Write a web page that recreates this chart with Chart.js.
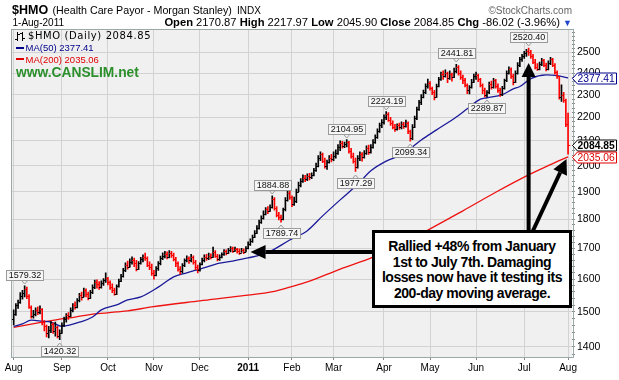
<!DOCTYPE html>
<html><head><meta charset="utf-8">
<script src="https://cdn.jsdelivr.net/npm/chart.js@4.4.0/dist/chart.umd.min.js"></script>
<style>
html,body{margin:0;padding:0;background:#fff;}
#wrap{position:relative;width:619px;height:380px;overflow:hidden;font-family:"Liberation Sans",Arial,sans-serif;color:#000;}
canvas{position:absolute;left:0;top:0;}
.t{position:absolute;white-space:nowrap;}
.dash{display:inline-block;width:8px;height:2px;vertical-align:middle;margin-right:2px;position:relative;top:-1px;}
#note{position:absolute;left:372px;top:230px;width:200px;height:78px;box-sizing:border-box;border:3px solid #000;background:#fff;
 text-align:center;font-weight:bold;font-size:14px;line-height:15.7px;letter-spacing:-0.45px;padding-top:6px;}
</style></head><body>
<div id="wrap">
<canvas id="c" width="619" height="380" style="width:619px;height:380px"></canvas>
<div class="t" style="left:12px;top:3.7px;font-size:12.5px;line-height:13px;font-weight:bold;">$HMO</div>
<div class="t" style="left:52.5px;top:4.5px;font-size:10.7px;line-height:11px;">(Health Care Payor - Morgan Stanley)</div>
<div class="t" style="left:237px;top:5px;font-size:10px;line-height:11px;">INDX</div>
<div class="t" style="right:47px;top:5.5px;font-size:10px;line-height:10px;color:#666;">©StockCharts.com</div>
<div class="t" style="left:12.5px;top:18.2px;font-size:10px;line-height:10px;">1-Aug-2011</div>
<div class="t" style="right:47px;top:17.3px;font-size:11.2px;line-height:11px;"><b>Open</b> 2170.87 <b>High</b> 2217.97 <b>Low</b> 2045.90 <b>Close</b> 2084.85 <b>Chg</b> -86.02 (-3.96%) <span style="color:#2244cc;font-size:9px">▼</span></div>
<div class="t" style="left:28px;top:30.2px;font-family:'DejaVu Sans',sans-serif;font-size:10px;line-height:12px;letter-spacing:0.6px;">$HMO (Daily) 2084.85</div>
<div class="t" style="left:15.5px;top:42.1px;font-size:9.5px;line-height:11px;color:#00008b;"><span class="dash" style="background:#00008b"></span>MA(50) 2377.41</div>
<div class="t" style="left:15.5px;top:53.6px;font-size:9.5px;line-height:11px;color:#e00000;"><span class="dash" style="background:#e00000"></span>MA(200) 2035.06</div>
<div class="t" style="left:16px;top:65.6px;font-size:13.8px;line-height:14px;font-weight:bold;color:#2b8f2b;">www.CANSLIM.net</div>
<div id="note">Rallied +48% from January<br>1st to July 7th. Damaging<br>losses now have it testing its<br>200-day moving average.</div>
</div>
<script>
// ---- data ----
const monthIdx = [0,22,43,64,85,107,127,146,169,190,211,233,253];
const monthLabels = ['Aug','Sep','Oct','Nov','Dec','2011','Feb','Mar','Apr','May','Jun','Jul','Aug'];
const yTicks = [1400,1500,1600,1700,1800,1900,2000,2100,2200,2300,2400,2500];
const yMinorTicks = [1380,1420,1440,1460,1480,1520,1540,1560,1580,1620,1640,1660,1680,1720,1740,1760,1780,1820,1840,1860,1880,1920,1940,1960,1980,2020,2040,2060,2080,2120,2140,2160,2180,2220,2240,2260,2280,2320,2340,2360,2380,2420,2440,2460,2480,2520,2540,2560,2580,2600];

const opens = [
1480,1495,1520,1530,1548,1556,1570,1548,1515,1488,
1495,1505,1500,1508,1470,1458,1440,1448,1465,1445,
1455,1432,1440,1462,1478,1490,1488,1505,1520,1515,
1535,1550,1545,1565,1555,1542,1560,1575,1590,1585,
1575,1588,1596,1605,1590,1575,1565,1555,1578,1595,
1610,1628,1645,1640,1655,1662,1650,1632,1650,1665,
1672,1668,1645,1640,1620,1612,1635,1650,1668,1675,
1680,1672,1685,1678,1665,1650,1632,1625,1645,1660,
1668,1660,1672,1655,1640,1628,1648,1660,1672,1668,
1676,1672,1688,1676,1665,1672,1680,1690,1685,1694,
1700,1692,1698,1690,1686,1695,1688,1700,1715,1725,
1738,1752,1770,1790,1805,1820,1835,1830,1845,1875,
1840,1815,1808,1800,1835,1870,1895,1880,1855,1865,
1900,1925,1940,1952,1948,1960,1955,1965,1982,2000,
2030,2045,2020,2000,2015,2030,2025,2040,2050,2075,
2090,2080,2088,2095,2060,2040,2020,1995,2030,2045,
2035,2050,2070,2055,2075,2095,2115,2140,2165,2180,
2200,2215,2190,2175,2160,2150,2165,2158,2170,2162,
2175,2140,2110,2160,2195,2235,2265,2290,2310,2340,
2355,2330,2310,2290,2340,2370,2395,2385,2400,2375,
2395,2380,2410,2430,2400,2380,2365,2345,2320,2335,
2360,2385,2390,2370,2345,2320,2300,2310,2350,2335,
2365,2340,2320,2305,2330,2365,2400,2420,2385,2360,
2400,2440,2465,2480,2495,2505,2500,2480,2455,2430,
2420,2445,2460,2440,2420,2450,2465,2440,2405,2385,
2290,2300,2275,2170.87];
const highs = [
1506,1525,1535,1558,1565,1579.32,1575,1552,1518,1505,
1512,1515,1518,1510,1475,1462,1458,1472,1468,1470,
1458,1448,1468,1485,1495,1498,1512,1525,1530,1540,
1556,1560,1572,1570,1560,1565,1582,1597,1598,1592,
1595,1602,1620,1606,1595,1585,1572,1582,1600,1615,
1634,1652,1658,1665,1672,1668,1660,1656,1670,1678,
1684,1672,1655,1648,1628,1640,1656,1674,1685,1690,
1688,1692,1690,1684,1670,1655,1640,1650,1665,1675,
1672,1680,1675,1660,1645,1652,1668,1678,1680,1684,
1682,1704,1692,1680,1678,1685,1696,1695,1700,1706,
1704,1704,1700,1698,1700,1698,1706,1722,1732,1745,
1760,1778,1797,1812,1830,1842,1845,1852,1884.88,1878,
1845,1825,1815,1840,1878,1907,1915,1885,1880,1910,
1937,1950,1964,1962,1968,1970,1972,1990,2010,2040,
2055,2050,2030,2022,2040,2045,2055,2063,2085,2100,
2098,2095,2104.95,2098,2070,2050,2030,2040,2055,2052,
2060,2080,2083,2085,2105,2125,2150,2175,2190,2210,
2224.19,2220,2200,2185,2170,2172,2175,2180,2178,2188,
2180,2145,2168,2205,2245,2275,2300,2321,2350,2372,
2360,2335,2320,2348,2380,2405,2410,2415,2405,2410,
2400,2423,2441.81,2435,2410,2390,2375,2350,2342,2370,
2395,2405,2395,2375,2350,2330,2318,2358,2362,2375,
2370,2350,2330,2338,2372,2410,2430,2425,2395,2410,
2450,2475,2490,2505,2515,2520.40,2510,2490,2465,2445,
2452,2470,2465,2448,2458,2475,2470,2445,2410,2385,
2345,2310,2280,2217.97];
const lows = [
1462,1490,1510,1525,1538,1545,1540,1510,1482,1482,
1488,1492,1494,1462,1445,1428,1425,1440,1438,1430,
1425,1420.32,1438,1458,1470,1478,1485,1500,1508,1512,
1530,1535,1545,1545,1536,1540,1555,1570,1572,1568,
1572,1580,1590,1582,1568,1558,1550,1552,1575,1592,
1606,1624,1632,1638,1648,1640,1626,1630,1648,1655,
1660,1640,1630,1612,1600,1610,1628,1645,1662,1668,
1665,1668,1670,1658,1640,1625,1616,1620,1640,1655,
1650,1655,1648,1630,1620,1625,1645,1655,1660,1662,
1665,1670,1670,1658,1660,1668,1676,1678,1682,1688,
1686,1690,1684,1680,1686,1682,1688,1698,1710,1720,
1736,1750,1765,1785,1800,1815,1820,1828,1840,1832,
1808,1798,1789.74,1798,1830,1865,1872,1845,1850,1860,
1900,1918,1935,1938,1942,1945,1950,1960,1978,1995,
2020,2012,1990,1985,2010,2015,2020,2030,2045,2060,
2070,2072,2075,2050,2030,2010,1977.29,1990,2020,2018,
2030,2045,2045,2050,2070,2090,2110,2135,2155,2170,
2190,2182,2165,2150,2140,2145,2148,2150,2152,2158,
2130,2099.34,2105,2155,2190,2230,2255,2285,2305,2330,
2320,2300,2276,2288,2335,2365,2370,2380,2355,2370,
2362,2378,2400,2390,2370,2350,2335,2305,2303,2330,
2355,2370,2360,2335,2305,2290,2289.87,2305,2325,2330,
2330,2310,2292,2295,2325,2360,2395,2375,2345,2355,
2395,2430,2455,2470,2480,2485,2470,2445,2420,2412,
2415,2435,2430,2410,2415,2440,2430,2395,2375,2280,
2270,2265,2160,2045.90];
const closes = [
1495,1520,1530,1548,1556,1570,1548,1515,1488,1495,
1505,1500,1508,1470,1458,1440,1448,1465,1445,1455,
1432,1440,1462,1478,1490,1488,1505,1520,1515,1535,
1550,1545,1565,1555,1542,1560,1575,1590,1585,1575,
1588,1596,1605,1590,1575,1565,1555,1578,1595,1610,
1628,1645,1640,1655,1662,1650,1632,1650,1665,1672,
1668,1645,1640,1620,1612,1635,1650,1668,1675,1680,
1672,1685,1678,1665,1650,1632,1625,1645,1660,1668,
1660,1672,1655,1640,1628,1648,1660,1672,1668,1676,
1672,1688,1676,1665,1672,1680,1690,1685,1694,1700,
1692,1698,1690,1686,1695,1688,1700,1715,1725,1738,
1752,1770,1790,1805,1820,1835,1830,1845,1875,1840,
1815,1808,1800,1835,1870,1895,1880,1855,1865,1900,
1925,1940,1952,1948,1960,1955,1965,1982,2000,2030,
2045,2020,2000,2015,2030,2025,2040,2050,2075,2090,
2080,2088,2095,2060,2040,2020,1995,2030,2045,2035,
2050,2070,2055,2075,2095,2115,2140,2165,2180,2200,
2215,2190,2175,2160,2150,2165,2158,2170,2162,2175,
2140,2110,2160,2195,2235,2265,2290,2310,2340,2355,
2330,2310,2290,2340,2370,2395,2385,2400,2375,2395,
2380,2410,2430,2400,2380,2365,2345,2320,2335,2360,
2385,2390,2370,2345,2320,2300,2310,2350,2335,2365,
2340,2320,2305,2330,2365,2400,2420,2385,2360,2400,
2440,2465,2480,2495,2505,2500,2480,2455,2430,2420,
2445,2460,2440,2420,2450,2465,2440,2405,2385,2290,
2300,2275,2170.87,2084.85];

const ma50Idx = [0,4,8,13,17,22,25,30,36,40,47,52,58,66,73,79,85,94,100,107,116,126,134,141,149,157,163,170,178,186,193,202,207,213,216,223,228,231,236,243,248,253];
const ma50Val = [1458,1465,1476,1473,1470,1458,1461,1470,1485,1506,1521,1536,1545,1575,1607,1620,1632,1651,1658,1668,1686,1728,1760,1812,1870,1928,1980,2018,2048,2104,2146,2201,2237,2280,2286,2300,2326,2337,2374,2391,2388,2377.41];
const ma200Idx = [0,13,21,28,37,47,52,63,85,104,119,126,134,149,164,176,189,205,220,235,245,253];
const ma200Val = [1455,1470,1479,1485,1494,1500,1503,1515,1533,1548,1562,1575,1591,1632,1671,1712,1762,1830,1898,1964,2004,2035.06];

// annotated highs / lows (bar index, 'hi' or 'lo')
const tagIdx  = [5,21,118,122,152,156,170,181,202,216,235];
const tagSide = ['hi','lo','hi','lo','hi','lo','hi','lo','hi','lo','hi'];
// arrow tips in data space [index, price]
const arrowTips = [[108.1,1688],[235,2448],[252.3,2027]];

// ---- chart ----
const FONT = '"Liberation Sans", Arial, sans-serif';
const barColors = closes.map((c,i)=> c >= (i>0 ? closes[i-1] : opens[0]) ? '#000000' : '#ff0000');
const allYTicks = yTicks.concat(yMinorTicks).sort((a,b)=>a-b);

const deco = {
  id:'deco',
  beforeDraw(chart){
    const {ctx, chartArea:a} = chart;
    ctx.save(); ctx.fillStyle='#f0f0f0';
    ctx.fillRect(a.left,a.top,a.right-a.left,a.bottom-a.top); ctx.restore();
  },
  afterDatasetsDraw(chart){
    const {ctx, chartArea:a, scales:{x,y}} = chart;
    const meta = chart.getDatasetMeta(0);
    ctx.save();
    ctx.beginPath(); ctx.rect(a.left,a.top,a.right-a.left,a.bottom-a.top); ctx.clip();
    ctx.lineWidth = 1;
    for (let i=0;i<closes.length;i++){
      const px = meta.data[i].x;
      const yo = Math.round(y.getPixelForValue(opens[i]))+0.5;
      const yc = Math.round(y.getPixelForValue(closes[i]))+0.5;
      ctx.strokeStyle = barColors[i];
      ctx.beginPath();
      ctx.moveTo(px-2.2, yo); ctx.lineTo(px, yo);
      ctx.moveTo(px, yc); ctx.lineTo(px+2.2, yc);
      ctx.stroke();
    }
    ctx.restore();
  },
  afterDraw(chart){
    const {ctx, chartArea:a, scales:{x,y}} = chart;
    ctx.save();
    // plot frame
    ctx.strokeStyle='#9aa8a8'; ctx.lineWidth=1;
    ctx.strokeRect(Math.round(a.left)-0.5, Math.round(a.top)-0.5, Math.round(a.right-a.left)+1, Math.round(a.bottom-a.top)+1);

    // legend OHLC icon
    ctx.strokeStyle='#000'; ctx.lineWidth=1;
    ctx.beginPath();
    ctx.moveTo(17.5,32); ctx.lineTo(17.5,41); ctx.moveTo(15,39.5); ctx.lineTo(17.5,39.5); ctx.moveTo(17.5,34.5); ctx.lineTo(20,34.5);
    ctx.moveTo(22.5,32); ctx.lineTo(22.5,41); ctx.moveTo(20,33.5); ctx.lineTo(22.5,33.5); ctx.moveTo(22.5,38.5); ctx.lineTo(25,38.5);
    ctx.stroke();

    // tags on highs / lows
    ctx.font = '9px ' + FONT;
    for (let k=0;k<tagIdx.length;k++){
      const i = tagIdx[k], hi = tagSide[k]==='hi';
      const v = hi ? highs[i] : lows[i];
      const text = v.toFixed(2);
      const cx = x.getPixelForValue(i);
      const py = y.getPixelForValue(v);
      const w = Math.ceil(ctx.measureText(text).width)+4, h = 10;
      const bx = Math.round(cx - w/2)+0.5;
      const by = hi ? Math.round(py - 6 - h)+0.5 : Math.round(py + 6)+0.5;
      ctx.fillStyle='#f6f6f6'; ctx.strokeStyle='#9a9a9a'; ctx.lineWidth=1;
      ctx.fillRect(bx,by,w,h); ctx.strokeRect(bx,by,w,h);
      ctx.beginPath();
      if (hi){ ctx.moveTo(cx-3,by+h); ctx.lineTo(cx,by+h+3.5); ctx.lineTo(cx+3,by+h); }
      else   { ctx.moveTo(cx-3,by);   ctx.lineTo(cx,by-3.5);   ctx.lineTo(cx+3,by); }
      ctx.stroke();
      ctx.fillStyle='#111'; ctx.textAlign='center'; ctx.textBaseline='middle';
      ctx.fillText(text, bx+w/2, by+h/2+0.5);
    }

    // right-hand value boxes
    const vbox = (val, color, bold) => {
      const yc = Math.round(y.getPixelForValue(val))+0.5;
      const x0 = Math.round(a.right)+0.5;
      ctx.beginPath();
      ctx.moveTo(x0, yc); ctx.lineTo(x0+5, yc-5.5); ctx.lineTo(616.5, yc-5.5);
      ctx.lineTo(616.5, yc+5.5); ctx.lineTo(x0+5, yc+5.5); ctx.closePath();
      ctx.fillStyle='#fff'; ctx.fill();
      ctx.strokeStyle=color; ctx.lineWidth=1; ctx.stroke();
      ctx.fillStyle = bold ? '#000' : color;
      ctx.font = (bold?'bold ':'') + '10.3px ' + FONT;
      ctx.textAlign='left'; ctx.textBaseline='middle';
      ctx.fillText(val.toFixed(2), x0+5, yc+0.5);
    };
    vbox(ma50Val[ma50Val.length-1], '#00008b', false);
    vbox(closes[closes.length-1], '#000', true);
    vbox(ma200Val[ma200Val.length-1], '#e00000', false);

    // arrows
    const arrow = (x0,y0,x1,y1,L,W) => {
      const ang = Math.atan2(y1-y0, x1-x0);
      const bx = x1 - L*Math.cos(ang), by = y1 - L*Math.sin(ang);
      ctx.strokeStyle='#000'; ctx.lineWidth=4; ctx.lineCap='butt';
      ctx.beginPath(); ctx.moveTo(x0,y0); ctx.lineTo(bx,by); ctx.stroke();
      ctx.fillStyle='#000'; ctx.beginPath();
      ctx.moveTo(x1,y1);
      ctx.lineTo(bx + W*Math.sin(ang), by - W*Math.cos(ang));
      ctx.lineTo(bx - W*Math.sin(ang), by + W*Math.cos(ang));
      ctx.closePath(); ctx.fill();
    };
    const t0 = arrowTips[0], t1 = arrowTips[1], t2 = arrowTips[2];
    const h0y = y.getPixelForValue(t0[1]);
    arrow(380, h0y, x.getPixelForValue(t0[0]), h0y, 15, 7);
    const v1x = x.getPixelForValue(t1[0]);
    arrow(v1x, 240, v1x, y.getPixelForValue(t1[1]), 14, 7);
    arrow(530.5, 236, x.getPixelForValue(t2[0]), y.getPixelForValue(t2[1]), 15, 7.5);
    ctx.restore();
  }
};

new Chart(document.getElementById('c'), {
  data: {
    datasets: [
      { type:'bar', data: lows.map((l,i)=>({x:i, y:[l, highs[i]]})),
        backgroundColor: barColors, borderWidth:0, barThickness:1, grouped:false, order:0 },
      { type:'line', data: ma50Idx.map((d,k)=>({x:d, y:ma50Val[k]})), borderColor:'#1a1a9a', borderWidth:1.3,
        pointRadius:0, cubicInterpolationMode:'monotone', fill:false, order:1 },
      { type:'line', data: ma200Idx.map((d,k)=>({x:d, y:ma200Val[k]})), borderColor:'#ee1111', borderWidth:1.3,
        pointRadius:0, cubicInterpolationMode:'monotone', fill:false, order:2 }
    ]
  },
  options: {
    responsive:false, animation:false, devicePixelRatio:1, events:[],
    layout:{ padding:{ left:11.5, top:30, right:0, bottom:0 } },
    plugins:{ legend:{display:false}, tooltip:{enabled:false} },
    scales:{
      x:{ type:'linear', min:-1.0, max:254.8, offset:false,
        afterFit(s){ s.height = 23; },
        afterBuildTicks(s){ s.ticks = monthIdx.map(v=>({value:v})); },
        grid:{ color:'#d2d2d2', tickColor:'#888', tickLength:3, offset:false },
        border:{ display:false },
        ticks:{ autoSkip:false, maxRotation:0, padding:2, color:'#000',
          callback:(v)=> monthLabels[monthIdx.indexOf(v)],
          font:(c)=>({ family:FONT, size:10, weight:(c.tick && c.tick.label==='2011') ? 'bold':'normal' }) }
      },
      y:{ type:'logarithmic', position:'right', min:1372.7, max:2612,
        afterFit(s){ s.width = 47; },
        afterBuildTicks(s){ s.ticks = allYTicks.map(v=>({value:v})); },
        grid:{ color:(c)=> (c.tick && yTicks.includes(c.tick.value)) ? '#d2d2d2' : 'rgba(0,0,0,0)',
               tickColor:'#888', tickLength:3 },
        border:{ display:false },
        ticks:{ autoSkip:false, padding:2, color:'#000', font:{ family:FONT, size:10.5 },
          callback:(v)=> yTicks.includes(v) ? String(v) : '' }
      }
    }
  },
  plugins:[deco]
});
</script>
</body></html>
